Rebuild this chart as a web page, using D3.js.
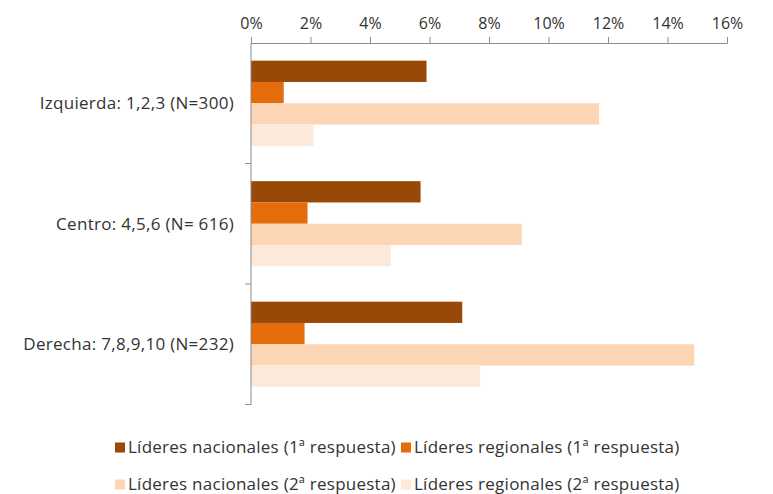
<!DOCTYPE html>
<html>
<head>
<meta charset="utf-8">
<script src="https://cdn.jsdelivr.net/npm/d3@7/dist/d3.min.js"></script>
<style>
  html, body { margin: 0; padding: 0; background: #fff; }
  svg { display: block; }
  text { font-family: "Open Sans", "Lato", sans-serif; fill: #333333; }
</style>
</head>
<body>
<svg id="chart" width="773" height="494"></svg>
<script>
const categories = ["Izquierda: 1,2,3 (N=300)", "Centro: 4,5,6 (N= 616)", "Derecha: 7,8,9,10 (N=232)"];
const seriesNames = ["Líderes nacionales (1ª respuesta)", "Líderes regionales (1ª respuesta)", "Líderes nacionales (2ª respuesta)", "Líderes regionales (2ª respuesta)"];
const nacionales1 = [5.9, 5.7, 7.1];
const regionales1 = [1.1, 1.9, 1.8];
const nacionales2 = [11.7, 9.1, 14.9];
const regionales2 = [2.1, 4.7, 7.7];
const seriesColors = ["#984807", "#E46C0A", "#FCD5B5", "#FDE9D9"];
const xTicks = [0, 2, 4, 6, 8, 10, 12, 14, 16];

const seriesValues = [nacionales1, regionales1, nacionales2, regionales2];

const svg = d3.select("#chart");
const plotLeft = 251, plotRight = 727, plotTop = 43, plotBottom = 404.5;

const x = d3.scaleLinear().domain([0, 16]).range([plotLeft, plotRight]);
const y = d3.scaleBand().domain(categories).range([plotTop, plotBottom]).padding(0);
const yInner = d3.scaleBand().domain(d3.range(seriesNames.length))
  .range([0, y.bandwidth()]).paddingInner(0).paddingOuter(0.83);

// bars
seriesValues.forEach((vals, si) => {
  svg.append("g").selectAll("rect").data(vals).join("rect")
    .attr("x", x(0))
    .attr("y", (d, i) => y(categories[i]) + yInner(si))
    .attr("width", d => x(d) - x(0))
    .attr("height", yInner.bandwidth())
    .attr("fill", seriesColors[si]);
});

// top x axis
const xAxis = svg.append("g").attr("transform", `translate(0,${plotTop})`)
  .call(d3.axisTop(x).tickValues(xTicks).tickSize(6).tickPadding(8).tickFormat(d => d + "%"));
xAxis.select(".domain").attr("stroke", "#8c8c8c");
xAxis.selectAll(".tick line").attr("stroke", "#8c8c8c");
xAxis.selectAll(".tick text").attr("font-size", 16).attr("fill", "#333333")
  .style("font-family", "'Open Sans', Lato, sans-serif");

// left axis line with ticks at band boundaries
const yAxisG = svg.append("g");
yAxisG.append("line").attr("x1", plotLeft).attr("x2", plotLeft).attr("y1", plotTop).attr("y2", plotBottom)
  .attr("stroke", "#8c8c8c");
categories.forEach(c => {
  const yb = y(c) + y.bandwidth();
  yAxisG.append("line").attr("x1", plotLeft - 6).attr("x2", plotLeft).attr("y1", yb).attr("y2", yb)
    .attr("stroke", "#8c8c8c");
});

// category labels
svg.append("g").selectAll("text").data(categories).join("text")
  .attr("x", 234)
  .attr("y", d => y(d) + y.bandwidth() / 2)
  .attr("dy", "0.35em")
  .attr("text-anchor", "end")
  .attr("font-size", 17)
  .attr("letter-spacing", 0.3)
  .text(d => d);

// legend
const legendCols = [115, 401];
const legendRows = [447.5, 484.5];
const lg = svg.append("g");
seriesNames.forEach((name, i) => {
  const cx = legendCols[i % 2], cy = legendRows[Math.floor(i / 2)];
  lg.append("rect").attr("x", cx).attr("y", cy - 5).attr("width", 10).attr("height", 10)
    .attr("fill", seriesColors[i]);
  lg.append("text").attr("x", cx + 13).attr("y", cy).attr("dy", "0.35em")
    .attr("font-size", 17).attr("letter-spacing", 0.25).text(name);
});
</script>
</body>
</html>
